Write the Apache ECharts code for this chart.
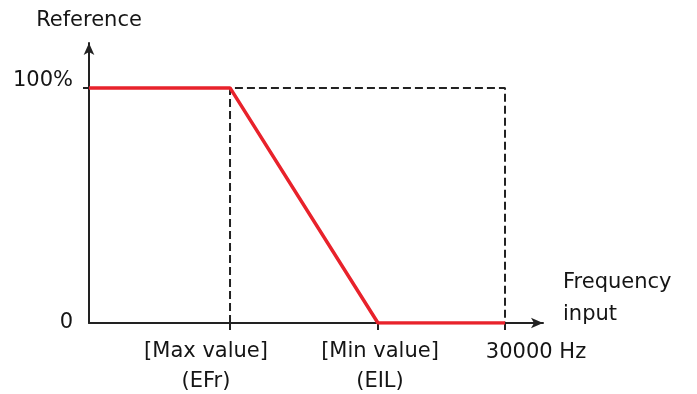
<!DOCTYPE html>
<html>
<head>
<meta charset="utf-8">
<script src="https://cdn.jsdelivr.net/npm/echarts@6/dist/echarts.min.js"></script>
<style>html,body{margin:0;padding:0;background:#fff}#c{width:697px;height:394px}</style>
</head>
<body>
<div id="c"></div>
<script>
// Data (x in Hz, y in % of reference)
const tickValues = [10170, 20840, 30000];
const tickLabels = ['[Max value]\n(EFr)', '[Min value]\n(EIL)', '30000 Hz'];
const yTickValues = [0, 100];
const yTickLabels = ['0', '100%'];
const refX = [0, 10170, 20840, 30000];
const refY = [100, 100, 0, 0];
const guideX = [10170, 10170, 30000, 30000];
const guideY = [0, 100, 100, 0];
const xAxisMax = 32740;
const yAxisMax = 119.1;
const xAxisTitle = 'Frequency\ninput';
const yAxisTitle = 'Reference';

const FONT = 'DejaVu Sans';
const TXT = '#151515';
const AX = '#222222';

const chart = echarts.init(document.getElementById('c'), null, {renderer: 'canvas'});
const labelStyle = ['lmax', 'lmin', 'lhz'];
// trailing empty slot at the axis end so the last real label is never auto-hidden
const labelValues = tickValues.concat([xAxisMax]);
chart.setOption({
  animation: false,
  title: {
    text: xAxisTitle, left: 563, top: 267, padding: 0,
    textStyle: {fontFamily: FONT, fontSize: 21, fontWeight: 'normal', color: TXT, lineHeight: 32}
  },
  grid: {left: 89, top: 43, right: 154, bottom: 71, outerBoundsMode: 'none', containLabel: false},
  xAxis: {
    type: 'value', min: 0, max: xAxisMax,
    splitLine: {show: false},
    axisLine: {show: true, lineStyle: {color: AX, width: 2}, symbol: ['none', 'arrow'], symbolSize: [8, 12]},
    axisTick: {show: true, length: 7, lineStyle: {color: AX, width: 2}, customValues: tickValues},
    axisLabel: {
      show: true, margin: 14, fontFamily: FONT, fontSize: 21, color: TXT, lineHeight: 30,
      hideOverlap: false,
      customValues: labelValues,
      formatter: function (v) {
        const i = tickValues.indexOf(v);
        if (i < 0) return '';
        return tickLabels[i].split('\n').map(s => '{' + labelStyle[i] + '|' + s + '}').join('\n');
      },
      rich: {
        lmax: {fontFamily: FONT, fontSize: 21, color: TXT, lineHeight: 30, padding: [0, 48, 0, 0]},
        lmin: {fontFamily: FONT, fontSize: 21, color: TXT, lineHeight: 30, padding: [0, 0, 0, 4]},
        lhz: {fontFamily: FONT, fontSize: 21, color: TXT, lineHeight: 30, padding: [2, 0, 0, 62]}
      }
    }
  },
  yAxis: {
    type: 'value', min: 0, max: yAxisMax,
    splitLine: {show: false},
    name: yAxisTitle, nameLocation: 'end', nameGap: 12, nameMoveOverlap: false,
    nameTextStyle: {fontFamily: FONT, fontSize: 21, color: TXT, align: 'center'},
    axisLine: {show: true, lineStyle: {color: AX, width: 2}, symbol: ['none', 'arrow'], symbolSize: [8, 12]},
    axisTick: {show: true, length: 6, lineStyle: {color: AX, width: 2}, customValues: [100]},
    axisLabel: {
      show: true, margin: 16, fontFamily: FONT, fontSize: 21, color: TXT,
      hideOverlap: false, showMinLabel: true, showMaxLabel: true,
      customValues: yTickValues,
      formatter: function (v) {
        const i = yTickValues.indexOf(v);
        if (i < 0) return '';
        return i === 1 ? '{top|' + yTickLabels[i] + '}' : yTickLabels[i];
      },
      rich: {top: {fontFamily: FONT, fontSize: 21, color: TXT, padding: [0, 0, 14, 0]}}
    }
  },
  series: [
    {
      type: 'line', symbol: 'none', silent: true,
      data: guideX.map((x, i) => [x, guideY[i]]),
      lineStyle: {color: AX, width: 2, type: [8, 4]}
    },
    {
      type: 'line', symbol: 'none', silent: true,
      data: refX.map((x, i) => [x, refY[i]]),
      lineStyle: {color: '#e8222b', width: 3.5}
    }
  ]
});
</script>
</body>
</html>
